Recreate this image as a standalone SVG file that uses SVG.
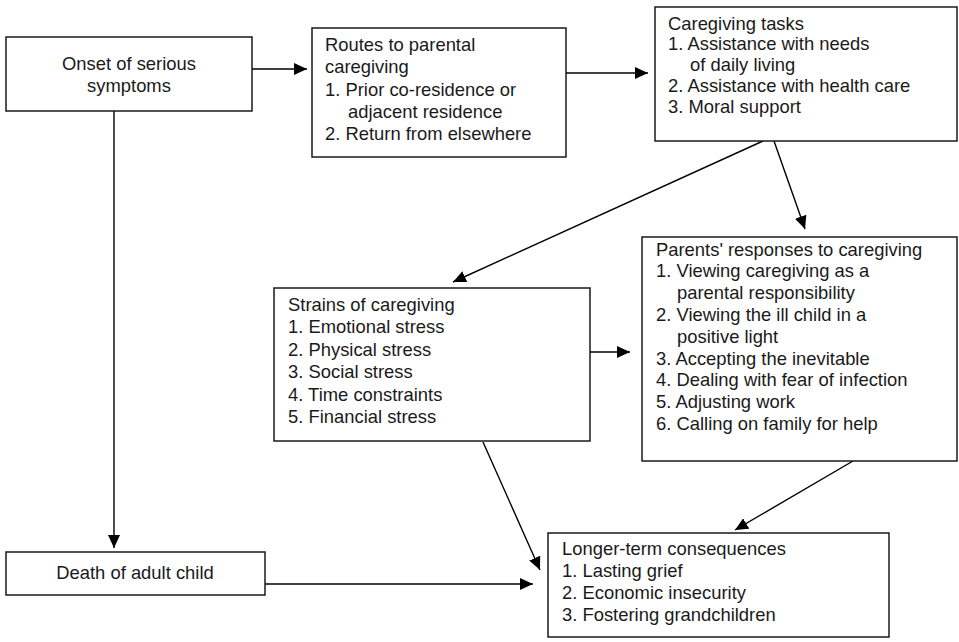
<svg xmlns="http://www.w3.org/2000/svg" width="959" height="642" viewBox="0 0 959 642">
<defs>
<style>
.box{fill:#fff;stroke:#1a1a1a;stroke-width:1.5}
.t{font-family:"Liberation Sans",Arial,sans-serif;font-size:18.4px;fill:#1a1a1a}
.c{text-anchor:middle}
.e{fill:none;stroke:#000;stroke-width:1.4}
</style>
<marker id="ah" markerUnits="userSpaceOnUse" markerWidth="14" markerHeight="12" refX="13" refY="6" orient="auto" viewBox="0 0 14 12">
<path d="M0,0 L13,6 L0,12 z" fill="#000"/>
</marker>
</defs>
<rect width="959" height="642" fill="#fff"/>
<g id="connectors">
<path class="e" d="M252,69 L307,69" marker-end="url(#ah)"/>
<path class="e" d="M566,73 L648,73" marker-end="url(#ah)"/>
<path class="e" d="M763,141 L453,282" marker-end="url(#ah)"/>
<path class="e" d="M774,141 L805,229" marker-end="url(#ah)"/>
<path class="e" d="M590,352 L630,352" marker-end="url(#ah)"/>
<path class="e" d="M853,461 L735,530" marker-end="url(#ah)"/>
<path class="e" d="M483,442 L540,570" marker-end="url(#ah)"/>
<path class="e" d="M114,111 L114,548" marker-end="url(#ah)"/>
<path class="e" d="M265,584 L533,584" marker-end="url(#ah)"/>
</g>
<g id="onset">
<rect class="box" x="6" y="37" width="246" height="74"/>
<text class="t c" x="129" y="70">Onset of serious</text>
<text class="t c" x="129" y="92">symptoms</text>
</g>
<g id="routes">
<rect class="box" x="312" y="28" width="254" height="129"/>
<text class="t" x="325" y="51">Routes to parental</text>
<text class="t" x="325" y="73">caregiving</text>
<text class="t" x="325" y="96">1. Prior co-residence or</text>
<text class="t" x="348" y="118">adjacent residence</text>
<text class="t" x="325" y="140">2. Return from elsewhere</text>
</g>
<g id="tasks">
<rect class="box" x="655" y="7" width="302" height="134"/>
<text class="t" x="668" y="30">Caregiving tasks</text>
<text class="t" x="668" y="50">1. Assistance with needs</text>
<text class="t" x="690" y="71">of daily living</text>
<text class="t" x="668" y="92">2. Assistance with health care</text>
<text class="t" x="668" y="113">3. Moral support</text>
</g>
<g id="strains">
<rect class="box" x="274" y="288" width="316" height="153"/>
<text class="t" x="288" y="311">Strains of caregiving</text>
<text class="t" x="288" y="333">1. Emotional stress</text>
<text class="t" x="288" y="356">2. Physical stress</text>
<text class="t" x="288" y="378">3. Social stress</text>
<text class="t" x="288" y="401">4. Time constraints</text>
<text class="t" x="288" y="423">5. Financial stress</text>
</g>
<g id="parents">
<rect class="box" x="642" y="237" width="315" height="224"/>
<text class="t" x="656" y="256">Parents' responses to caregiving</text>
<text class="t" x="656" y="277">1. Viewing caregiving as a</text>
<text class="t" x="677" y="299">parental responsibility</text>
<text class="t" x="656" y="321">2. Viewing the ill child in a</text>
<text class="t" x="677" y="343">positive light</text>
<text class="t" x="656" y="365">3. Accepting the inevitable</text>
<text class="t" x="656" y="386">4. Dealing with fear of infection</text>
<text class="t" x="656" y="408">5. Adjusting work</text>
<text class="t" x="656" y="430">6. Calling on family for help</text>
</g>
<g id="death">
<rect class="box" x="6" y="552" width="259" height="43"/>
<text class="t c" x="135" y="579">Death of adult child</text>
</g>
<g id="longer">
<rect class="box" x="548" y="533" width="341" height="104"/>
<text class="t" x="562" y="555">Longer-term consequences</text>
<text class="t" x="562" y="577">1. Lasting grief</text>
<text class="t" x="562" y="599">2. Economic insecurity</text>
<text class="t" x="562" y="621">3. Fostering grandchildren</text>
</g>
</svg>
